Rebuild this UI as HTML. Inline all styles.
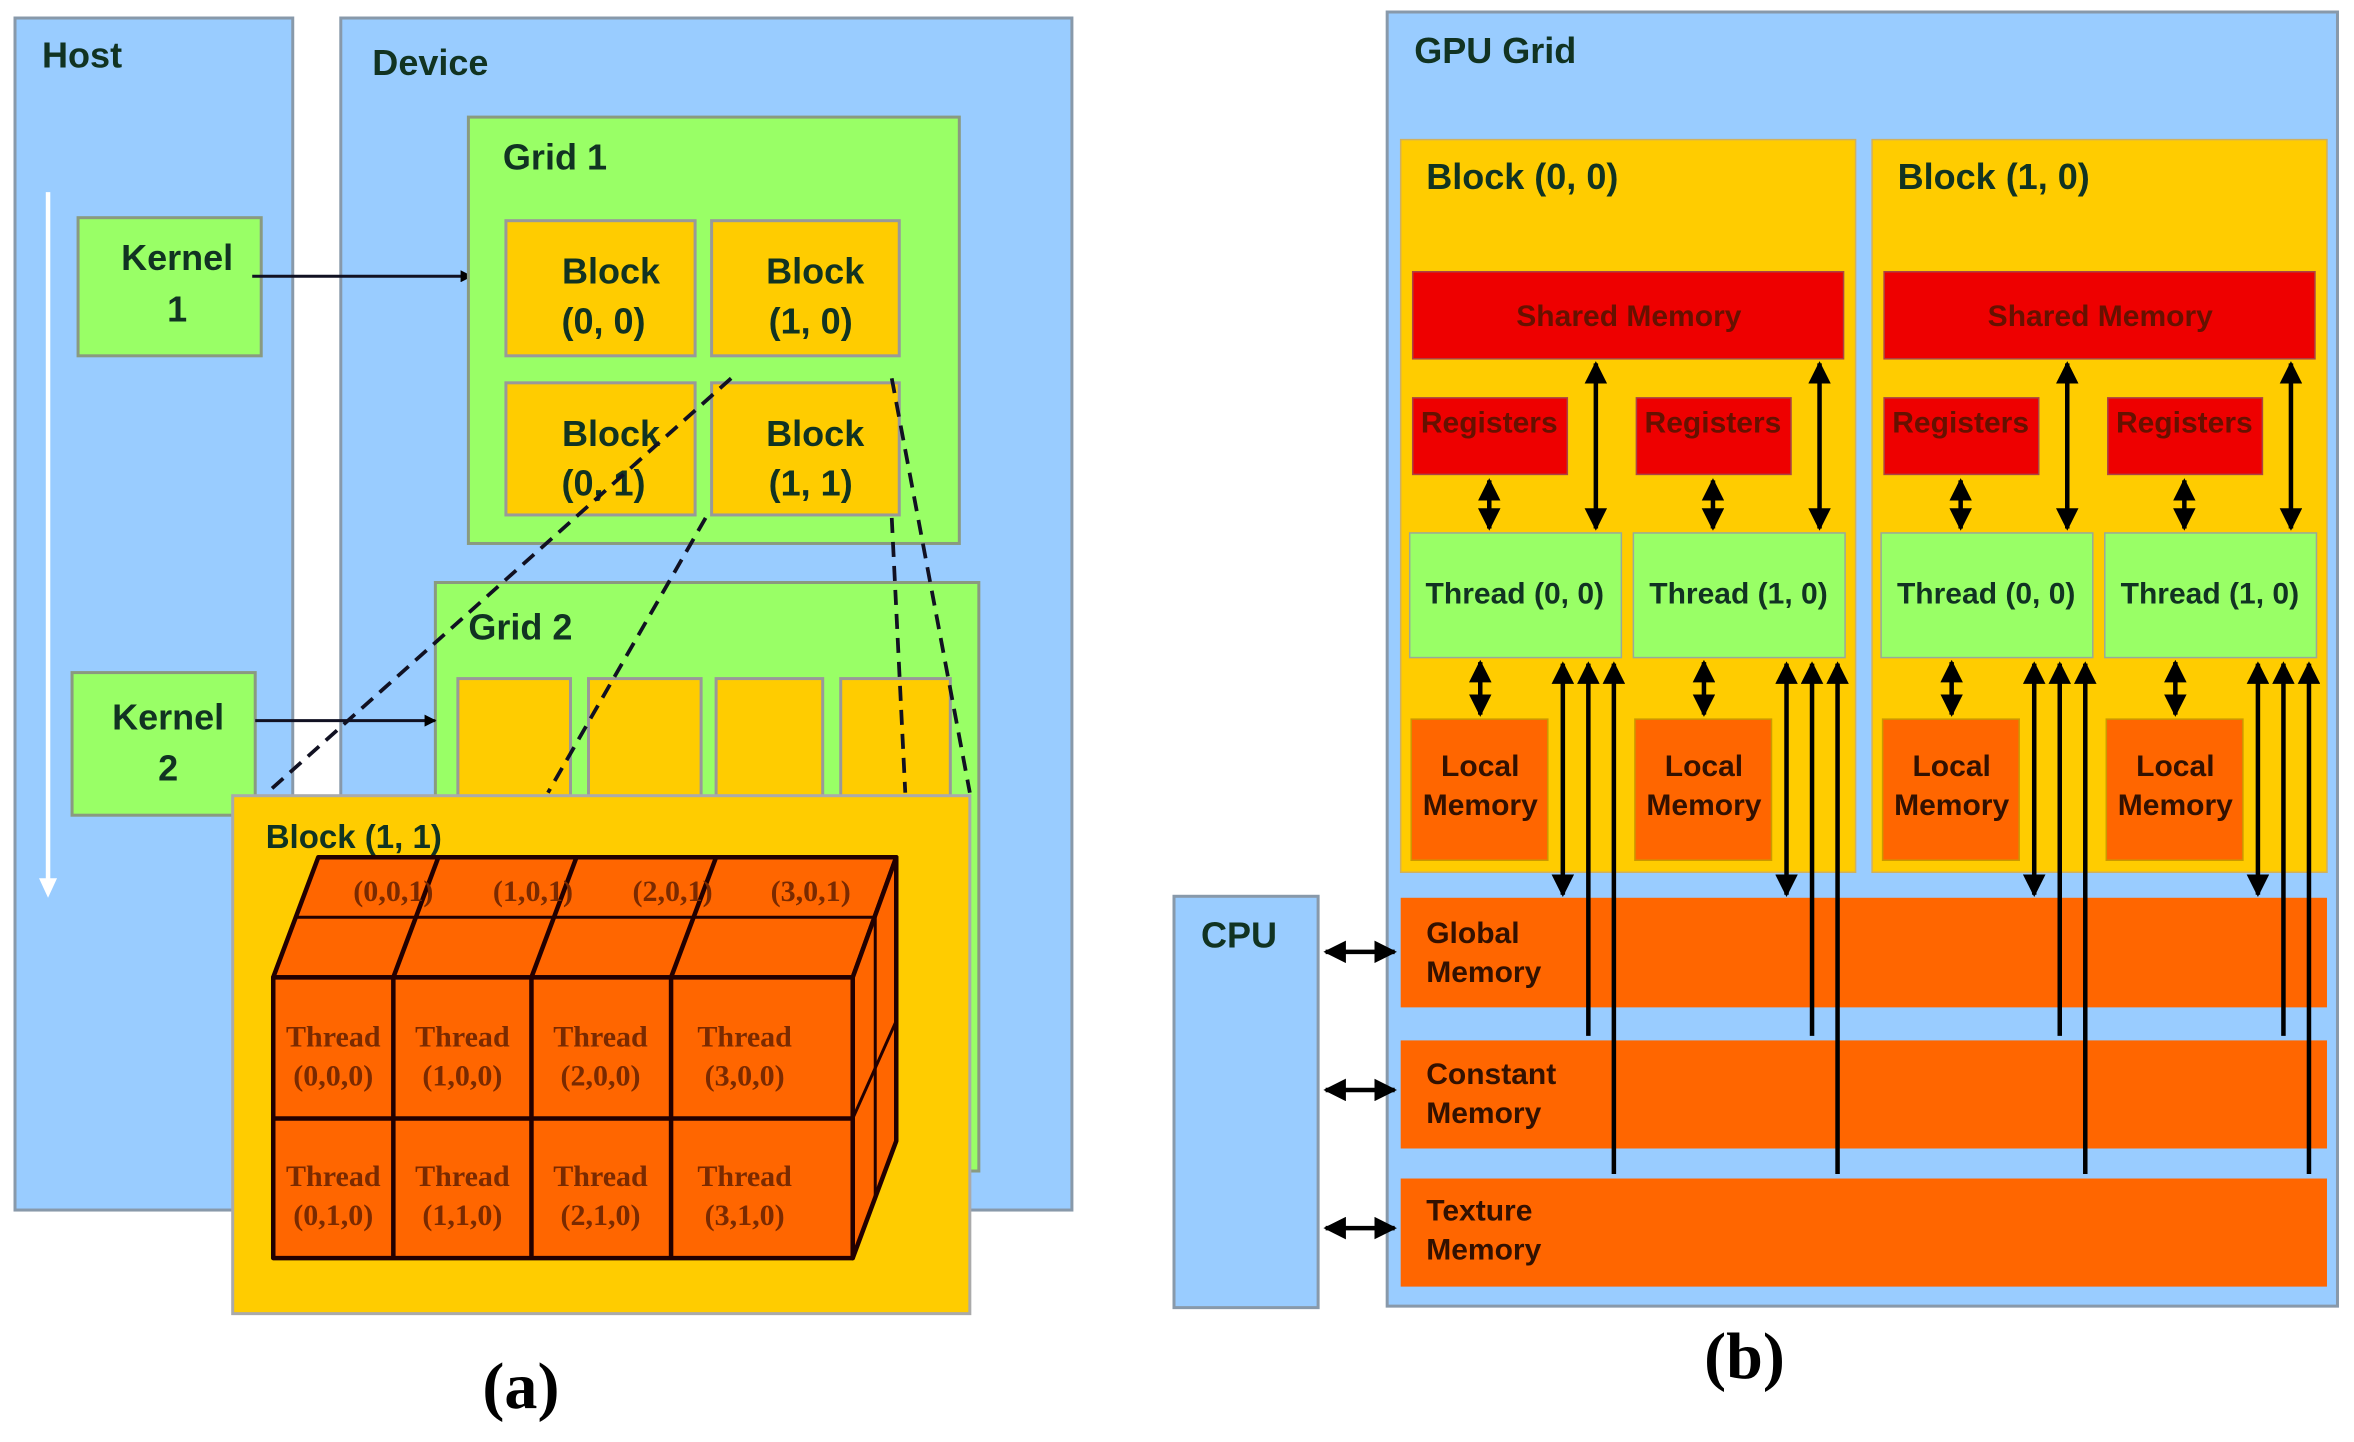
<!DOCTYPE html>
<html><head><meta charset="utf-8"><style>
html,body{margin:0;padding:0;background:#fff;}
svg{display:block;}
.t{font-family:"Liberation Sans",sans-serif;font-weight:bold;fill:#113322;}
.r{font-family:"Liberation Sans",sans-serif;font-weight:bold;fill:#661100;}
.o{font-family:"Liberation Sans",sans-serif;font-weight:bold;fill:#331100;}
.s{font-family:"Liberation Serif",serif;font-weight:bold;fill:#7a2a00;}
</style></head><body>
<svg width="2354" height="1442" viewBox="0 0 1568 960.5" preserveAspectRatio="none" xmlns="http://www.w3.org/2000/svg">
<defs>
<marker id="ah" viewBox="0 0 10 10" refX="9" refY="5" markerWidth="5" markerHeight="5" orient="auto-start-reverse"><path d="M0,0L10,5L0,10z" fill="#000"/></marker>
<marker id="ab" viewBox="0 0 10 10" refX="9" refY="5" markerWidth="4" markerHeight="4" orient="auto-start-reverse"><path d="M0,0L10,5L0,10z" fill="#000"/></marker>
<g id="th">
<rect x="941" y="265" width="103" height="51" fill="#ee0000" stroke="#a44" stroke-width="1"/>
<text x="992" y="288" font-size="20" text-anchor="middle" class="r">Registers</text>
<rect x="940" y="479" width="91" height="94" fill="#ff6600" stroke="#c90" stroke-width="1"/>
<text x="986" y="517" font-size="20" text-anchor="middle" class="o">Local</text>
<text x="986" y="543" font-size="20" text-anchor="middle" class="o">Memory</text>
<rect x="939" y="355" width="141" height="83" fill="#99ff66" stroke="#9a9" stroke-width="1"/>
<g stroke="#000" stroke-width="3" fill="none">
<line x1="992" y1="320" x2="992" y2="352" marker-start="url(#ah)" marker-end="url(#ah)"/>
<line x1="986" y1="441" x2="986" y2="476" marker-start="url(#ah)" marker-end="url(#ah)"/>
<line x1="1063" y1="242" x2="1063" y2="352" marker-start="url(#ah)" marker-end="url(#ah)"/>
<line x1="1041" y1="442" x2="1041" y2="596" marker-start="url(#ah)" marker-end="url(#ah)"/>
<line x1="1058" y1="690" x2="1058" y2="442" marker-end="url(#ah)"/>
<line x1="1075" y1="782" x2="1075" y2="442" marker-end="url(#ah)"/></g>
</g>
</defs>
<!-- (a) -->
<rect x="10" y="12" width="185" height="794" fill="#99ccff" stroke="#8899aa" stroke-width="2"/>
<rect x="227" y="12" width="487" height="794" fill="#99ccff" stroke="#8899aa" stroke-width="2"/>
<text x="28" y="45" class="t" font-size="24">Host</text>
<text x="248" y="50" class="t" font-size="24">Device</text>
<line x1="32" y1="128" x2="32" y2="590" stroke="#fff" stroke-width="3"/>
<path d="M26,585L32,598L38,585z" fill="#fff"/>
<rect x="52" y="145" width="122" height="92" fill="#99ff66" stroke="#8a9a80" stroke-width="2"/>
<text x="118" y="180" class="t" font-size="24" text-anchor="middle">Kernel</text>
<text x="118" y="214" class="t" font-size="24" text-anchor="middle">1</text>
<line x1="168" y1="184" x2="314" y2="184" stroke="#112" stroke-width="2" marker-end="url(#ab)"/>
<rect x="312" y="78" width="327" height="284" fill="#99ff66" stroke="#8a9a80" stroke-width="2"/>
<text x="335" y="113" class="t" font-size="24">Grid 1</text>
<g fill="#ffcc00" stroke="#999" stroke-width="2">
<rect x="337" y="147" width="126" height="90"/><rect x="474" y="147" width="125" height="90"/>
<rect x="337" y="255" width="126" height="88"/><rect x="474" y="255" width="125" height="88"/></g>
<g class="t" font-size="24" text-anchor="middle">
<text x="407" y="189">Block</text><text x="402" y="222">(0, 0)</text>
<text x="543" y="189">Block</text><text x="540" y="222">(1, 0)</text>
<text x="407" y="297">Block</text><text x="402" y="330">(0, 1)</text>
<text x="543" y="297">Block</text><text x="540" y="330">(1, 1)</text></g>
<rect x="290" y="388" width="362" height="392" fill="#99ff66" stroke="#8a9a80" stroke-width="2"/>
<text x="312" y="426" class="t" font-size="24">Grid 2</text>
<g fill="#ffcc00" stroke="#999" stroke-width="2">
<rect x="305" y="452" width="75" height="120"/><rect x="392" y="452" width="75" height="120"/>
<rect x="477" y="452" width="71" height="120"/><rect x="560" y="452" width="73" height="120"/></g>
<rect x="48" y="448" width="122" height="95" fill="#99ff66" stroke="#8a9a80" stroke-width="2"/>
<text x="112" y="486" class="t" font-size="24" text-anchor="middle">Kernel</text>
<text x="112" y="520" class="t" font-size="24" text-anchor="middle">2</text>
<line x1="170" y1="480" x2="290" y2="480" stroke="#112" stroke-width="2" marker-end="url(#ab)"/>
<g stroke="#112" stroke-width="2.5" stroke-dasharray="10,6" fill="none">
<line x1="487" y1="252" x2="178" y2="528"/><line x1="470" y1="345" x2="365" y2="528"/>
<line x1="594" y1="252" x2="646" y2="528"/><line x1="594" y1="345" x2="603" y2="528"/></g>
<rect x="155" y="530" width="491" height="345" fill="#ffcc00" stroke="#aaa" stroke-width="2"/>
<text x="177" y="565" class="t" font-size="22">Block (1, 1)</text>
<g stroke="#200" stroke-width="3" stroke-linejoin="round">
<polygon points="182,651 212,571 597,571 568,651" fill="#ff6600"/>
<polygon points="568,651 597,571 597,760 568,838" fill="#ff6600"/>
<rect x="182" y="651" width="386" height="187" fill="#ff6600"/>
<line x1="197" y1="611" x2="582" y2="611" stroke-width="2"/>
<line x1="262" y1="651" x2="292" y2="571"/><line x1="354" y1="651" x2="384" y2="571"/><line x1="447" y1="651" x2="477" y2="571"/>
<line x1="583" y1="611" x2="583" y2="799" stroke-width="2"/>
<line x1="568" y1="745" x2="597" y2="680" stroke-width="2"/>
<line x1="182" y1="745" x2="568" y2="745"/>
<line x1="262" y1="651" x2="262" y2="838"/><line x1="354" y1="651" x2="354" y2="838"/><line x1="447" y1="651" x2="447" y2="838"/></g>
<g class="s" font-size="20" text-anchor="middle">
<text x="262" y="600">(0,0,1)</text><text x="355" y="600">(1,0,1)</text><text x="448" y="600">(2,0,1)</text><text x="540" y="600">(3,0,1)</text>
<text x="222" y="697">Thread</text><text x="222" y="723">(0,0,0)</text>
<text x="308" y="697">Thread</text><text x="308" y="723">(1,0,0)</text>
<text x="400" y="697">Thread</text><text x="400" y="723">(2,0,0)</text>
<text x="496" y="697">Thread</text><text x="496" y="723">(3,0,0)</text>
<text x="222" y="790">Thread</text><text x="222" y="816">(0,1,0)</text>
<text x="308" y="790">Thread</text><text x="308" y="816">(1,1,0)</text>
<text x="400" y="790">Thread</text><text x="400" y="816">(2,1,0)</text>
<text x="496" y="790">Thread</text><text x="496" y="816">(3,1,0)</text></g>
<text x="347" y="938" font-family="Liberation Serif,serif" font-weight="bold" font-size="44" text-anchor="middle" fill="#000">(a)</text>
<!-- (b) -->
<rect x="924" y="8" width="633" height="862" fill="#99ccff" stroke="#8899aa" stroke-width="2"/>
<text x="942" y="42" class="t" font-size="24">GPU Grid</text>
<rect x="782" y="597" width="96" height="274" fill="#99ccff" stroke="#8899aa" stroke-width="2"/>
<text x="800" y="631" class="t" font-size="24">CPU</text>
<g fill="#ff6600">
<rect x="933" y="598" width="617" height="73"/><rect x="933" y="693" width="617" height="72"/><rect x="933" y="785" width="617" height="72"/></g>
<g class="o" font-size="20">
<text x="950" y="628">Global</text><text x="950" y="654">Memory</text>
<text x="950" y="722">Constant</text><text x="950" y="748">Memory</text>
<text x="950" y="813">Texture</text><text x="950" y="839">Memory</text></g>
<rect x="933" y="93" width="303" height="488" fill="#ffcc00" stroke="#d0b060" stroke-width="1"/>
<rect x="1247" y="93" width="303" height="488" fill="#ffcc00" stroke="#d0b060" stroke-width="1"/>
<text x="950" y="126" class="t" font-size="24">Block (0, 0)</text>
<text x="1264" y="126" class="t" font-size="24">Block (1, 0)</text>
<rect x="941" y="181" width="287" height="58" fill="#ee0000" stroke="#a44" stroke-width="1"/>
<rect x="1255" y="181" width="287" height="58" fill="#ee0000" stroke="#a44" stroke-width="1"/>
<text x="1085" y="217" class="r" font-size="20" text-anchor="middle">Shared Memory</text>
<text x="1399" y="217" class="r" font-size="20" text-anchor="middle">Shared Memory</text>
<use href="#th"/>
<use href="#th" x="149"/>
<use href="#th" x="314"/>
<use href="#th" x="463"/>
<g class="t" font-size="20" text-anchor="middle">
<text x="1009" y="402">Thread (0, 0)</text>
<text x="1158" y="402">Thread (1, 0)</text>
<text x="1323" y="402">Thread (0, 0)</text>
<text x="1472" y="402">Thread (1, 0)</text></g>
<g stroke="#000" stroke-width="3" fill="none">
<line x1="883" y1="634" x2="929" y2="634" marker-start="url(#ah)" marker-end="url(#ah)"/>
<line x1="883" y1="726" x2="929" y2="726" marker-start="url(#ah)" marker-end="url(#ah)"/>
<line x1="883" y1="818" x2="929" y2="818" marker-start="url(#ah)" marker-end="url(#ah)"/></g>
<text x="1162" y="918" font-family="Liberation Serif,serif" font-weight="bold" font-size="44" text-anchor="middle" fill="#000">(b)</text>
</svg>
</body></html>
